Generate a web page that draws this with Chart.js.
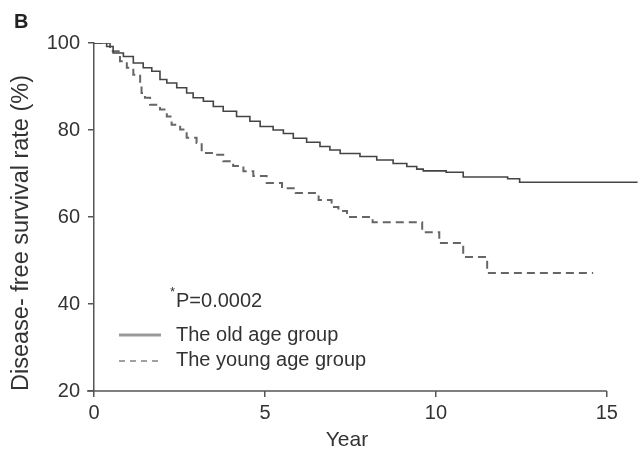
<!DOCTYPE html>
<html>
<head>
<meta charset="utf-8">
<script src="https://cdn.jsdelivr.net/npm/chart.js@4/dist/chart.umd.min.js"></script>
<style>
html,body{margin:0;padding:0;background:#fff;}
#wrap{width:643px;height:459px;position:relative;}
</style>
</head>
<body>
<div id="wrap"><canvas id="c" width="643" height="459"></canvas></div>
<script>
// ---- data ----
const oldYears    = [0, 0.27, 0.37, 0.56, 0.86, 1.15, 1.44, 1.69, 1.93, 2.13, 2.42, 2.71, 2.9, 3.2, 3.49, 3.78, 4.17, 4.56, 4.86, 5.24, 5.54, 5.83, 6.22, 6.61, 6.9, 7.2, 7.78, 8.27, 8.75, 9.15, 9.44, 9.63, 10.3, 10.8, 12.1, 12.45, 15.9];
const oldSurvival = [100, 100, 99.2, 97.7, 96.9, 95.4, 94.3, 93.5, 91.6, 90.8, 89.7, 88.5, 87.4, 86.6, 85.4, 84.3, 83.1, 82, 80.8, 80, 79.2, 78.1, 77.2, 76.2, 75.4, 74.6, 73.9, 73.1, 72.3, 71.6, 71, 70.6, 70.3, 69.2, 68.8, 68, 68];
const youngYears    = [0, 0.27, 0.47, 0.76, 0.96, 1.15, 1.35, 1.39, 1.49, 1.64, 1.93, 2.13, 2.27, 2.52, 2.71, 3.0, 3.15, 3.49, 3.78, 4.07, 4.37, 4.66, 5.05, 5.5, 5.9, 6.57, 6.95, 7.15, 7.4, 8.15, 9.6, 10.1, 10.8, 11.5, 14.6];
const youngSurvival = [100, 100, 98.1, 95.8, 94.3, 92.7, 90.8, 88.5, 87.4, 85.8, 84.7, 83.1, 81.2, 80.1, 78.2, 77, 74.7, 74.3, 72.8, 71.7, 70.5, 69.4, 67.8, 66.6, 65.5, 63.9, 62.3, 61.4, 60, 58.8, 56.5, 54, 50.8, 47.1, 47.1];
const xTicks = [0, 5, 10, 15];
const yTicks = [20, 40, 60, 80, 100];
const seriesNames = ['The old age group', 'The young age group'];
const pText = 'P=0.0002';

const axisColor = '#555';
const FONT = 'Liberation Sans, Arial, Helvetica, sans-serif';

const toPts = (xs, ys) => xs.map((x, i) => ({x: x, y: ys[i]}));

const decor = {
  id: 'decor',
  afterDraw(chart) {
    const ctx = chart.ctx;
    const xs = chart.scales.x, ys = chart.scales.y;
    ctx.save();
    // x axis line from 0 to 15
    ctx.strokeStyle = axisColor;
    ctx.lineWidth = 1.5;
    ctx.beginPath();
    ctx.moveTo(xs.getPixelForValue(xTicks[0]) - 7, ys.bottom);
    ctx.lineTo(xs.getPixelForValue(xTicks[xTicks.length - 1]), ys.bottom);
    ctx.stroke();

    ctx.fillStyle = '#222';
    // panel letter
    ctx.font = 'bold 20px ' + FONT;
    ctx.textAlign = 'left';
    ctx.textBaseline = 'middle';
    ctx.fillText('B', 14, 22);

    // x title
    ctx.fillStyle = '#333';
    ctx.font = '21px ' + FONT;
    ctx.textAlign = 'center';
    ctx.fillText('Year', 347, 440);

    // y title
    ctx.save();
    ctx.translate(22, 233);
    ctx.rotate(-Math.PI / 2);
    ctx.font = '23.5px ' + FONT;
    ctx.fillText('Disease- free survival rate (%)', 0, 0);
    ctx.restore();

    // p value
    ctx.textAlign = 'left';
    ctx.font = '20px ' + FONT;
    ctx.fillText(pText, 176, 301);
    ctx.font = '13px ' + FONT;
    ctx.fillText('*', 170, 292);

    // legend
    const ds = chart.data.datasets;
    const rows = [335, 360];
    ctx.font = '20px ' + FONT;
    ds.forEach((d, i) => {
      ctx.save();
      ctx.strokeStyle = i === 0 ? '#999' : '#444';
      ctx.lineWidth = i === 0 ? 3 : 1.2;
      ctx.setLineDash(i === 0 ? [] : [6, 5]);
      ctx.beginPath();
      ctx.moveTo(119, rows[i] + (i === 0 ? 0 : 1));
      ctx.lineTo(161, rows[i] + (i === 0 ? 0 : 1));
      ctx.stroke();
      ctx.restore();
      ctx.fillStyle = '#333';
      ctx.fillText(d.label, 176, rows[i]);
    });
    ctx.restore();
  }
};

new Chart(document.getElementById('c'), {
  type: 'line',
  data: {
    datasets: [
      {
        label: seriesNames[0],
        data: toPts(oldYears, oldSurvival),
        borderColor: '#444',
        borderWidth: 1.6,
        stepped: 'before',
        pointRadius: 0,
        fill: false
      },
      {
        label: seriesNames[1],
        data: toPts(youngYears, youngSurvival),
        borderColor: '#666',
        borderWidth: 2,
        borderDash: [8, 5],
        stepped: 'before',
        pointRadius: 0,
        fill: false
      }
    ]
  },
  options: {
    responsive: false,
    animation: false,
    devicePixelRatio: 1,
    layout: {padding: {top: 43, right: 2, left: 0, bottom: 0}},
    plugins: {legend: {display: false}, tooltip: {enabled: false}, title: {display: false}},
    scales: {
      x: {
        type: 'linear',
        min: 0,
        max: 16,
        afterFit(s) { s.height = 68; },
        afterBuildTicks(s) { s.ticks = xTicks.map(v => ({value: v})); },
        border: {display: false},
        grid: {drawOnChartArea: false, drawTicks: true, tickLength: 6, color: axisColor, lineWidth: 1.5},
        ticks: {color: '#333', font: {family: FONT, size: 20}, padding: 4, maxRotation: 0}
      },
      y: {
        type: 'linear',
        min: 20,
        max: 100,
        afterFit(s) { s.width = 94; },
        afterBuildTicks(s) { s.ticks = yTicks.map(v => ({value: v})); },
        border: {display: true, color: axisColor, width: 1.5},
        grid: {drawOnChartArea: false, drawTicks: true, tickLength: 6, color: axisColor, lineWidth: 1.5},
        ticks: {color: '#333', font: {family: FONT, size: 20}, padding: 8}
      }
    }
  },
  plugins: [decor]
});
</script>
</body>
</html>
